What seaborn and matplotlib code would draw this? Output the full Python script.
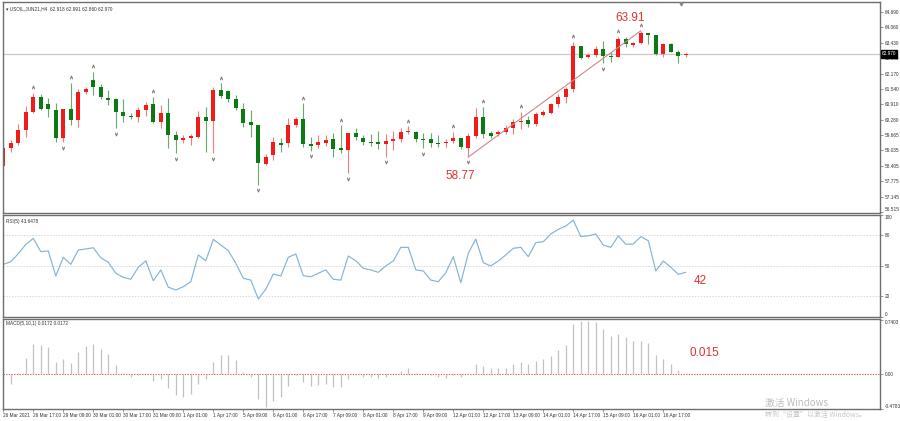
import numpy as np
import matplotlib
matplotlib.use("Agg")
import matplotlib.pyplot as plt
import seaborn as sns

# ---------------- data ----------------
header_main = "USOIL,JUN21,H4  62.918 62.991 62.860 62.970"
header_rsi = "RSI(5) 43.6478"
header_macd = "MACD(5,10,1) 0.0172 0.0172"

opens = [58.40, 59.15, 59.35, 59.87, 60.62, 61.23, 60.93, 60.69, 59.56, 60.73,
         60.28, 61.43, 61.91, 61.63, 61.19, 61.13, 60.62, 60.44, 60.39, 60.69,
         60.92, 60.18, 60.55, 59.67, 59.46, 59.53, 59.60, 60.41, 60.24, 61.50,
         61.47, 61.13, 60.71, 60.18, 60.07, 58.48, 58.85, 59.35, 59.33, 60.07,
         60.31, 59.29, 59.26, 59.33, 59.49, 59.12, 59.06, 59.74, 59.53, 59.39,
         59.37, 59.30, 59.42, 59.49, 59.78, 59.80, 59.50, 59.49, 59.35, 59.33,
         59.42, 59.53, 59.12, 59.62, 60.39, 59.74, 59.71, 59.80, 59.94, 60.21,
         60.28, 60.10, 60.48, 60.57, 60.92, 61.23, 61.53, 63.29, 62.86, 62.93,
         63.16, 62.89, 62.86, 63.57, 63.33, 63.40, 63.81, 63.74, 62.97, 63.36,
         63.06, 62.918]
highs = [59.39, 59.46, 60.11, 60.85, 61.39, 61.32, 61.16, 60.96, 60.74, 61.80,
         61.53, 61.63, 62.25, 61.73, 61.50, 61.16, 61.12, 60.57, 60.82, 61.02,
         61.23, 60.89, 61.16, 59.84, 59.67, 59.71, 60.66, 60.82, 61.63, 61.77,
         61.50, 61.30, 60.96, 60.69, 60.07, 58.88, 59.60, 59.53, 60.35, 60.41,
         60.96, 59.57, 59.67, 59.67, 59.74, 60.07, 59.76, 59.94, 59.67, 59.71,
         59.84, 59.71, 59.84, 59.94, 60.03, 59.83, 59.74, 59.74, 59.67, 59.49,
         59.80, 59.53, 59.76, 60.75, 60.82, 59.84, 59.87, 60.07, 60.31, 60.62,
         60.44, 60.62, 60.69, 60.98, 61.32, 61.63, 63.47, 63.30, 63.00, 63.29,
         63.51, 63.06, 63.67, 63.65, 63.47, 63.91, 63.84, 63.74, 63.43, 63.40,
         63.13, 62.991]
lows = [58.37, 58.99, 59.26, 59.57, 60.55, 60.69, 60.39, 59.39, 59.36, 60.07,
        60.00, 61.32, 61.30, 61.12, 60.89, 59.94, 60.21, 60.31, 60.21, 60.44,
        60.14, 59.94, 59.12, 58.92, 59.33, 59.26, 59.53, 58.99, 58.92, 61.16,
        61.02, 60.69, 60.00, 59.60, 57.63, 58.44, 58.65, 58.99, 59.16, 60.00,
        59.16, 59.03, 59.12, 59.22, 58.78, 58.92, 58.11, 59.46, 59.26, 59.22,
        59.08, 58.78, 59.06, 59.39, 59.71, 59.39, 59.12, 59.16, 59.19, 59.16,
        59.33, 59.08, 58.77, 59.53, 59.53, 59.56, 59.62, 59.71, 59.71, 59.90,
        59.98, 60.03, 60.44, 60.52, 60.82, 60.96, 61.43, 62.75, 62.79, 62.86,
        62.59, 62.65, 62.83, 63.26, 63.26, 63.36, 63.36, 62.93, 62.83, 63.04,
        62.61, 62.860]
closes = [59.15, 59.35, 59.87, 60.62, 61.23, 60.71, 60.73, 59.56, 60.71, 60.28,
          61.43, 61.54, 61.63, 61.23, 61.09, 60.62, 60.45, 60.39, 60.69, 60.89,
          60.18, 60.55, 59.67, 59.46, 59.53, 59.62, 60.41, 60.24, 61.50, 61.27,
          61.13, 60.75, 60.14, 60.07, 58.51, 58.78, 59.39, 59.25, 60.07, 60.31,
          59.29, 59.22, 59.37, 59.46, 59.08, 59.06, 59.76, 59.57, 59.39, 59.35,
          59.30, 59.42, 59.50, 59.80, 59.83, 59.49, 59.46, 59.33, 59.30, 59.39,
          59.53, 59.16, 59.62, 60.39, 59.71, 59.62, 59.80, 59.94, 60.21, 60.25,
          60.10, 60.52, 60.59, 60.92, 61.23, 61.54, 63.29, 62.79, 62.93, 63.16,
          62.89, 62.83, 63.57, 63.36, 63.40, 63.81, 63.73, 62.97, 63.36, 63.06,
          62.90, 62.970]

rsi = [51.5, 54, 62, 71, 77, 64, 64.6, 40, 58.4, 51.5,
       65.6, 66.6, 67.8, 58, 53.5, 42.7, 38.7, 36.8, 48.6, 55,
       35.4, 46, 29, 26.3, 29.5, 34.4, 60.7, 55, 76, 70.5,
       65, 52.5, 37.8, 36, 17.4, 27, 42, 40, 58.4, 61.7,
       40.3, 39.3, 42.7, 46, 36.8, 36, 59.7, 55, 47.6, 46,
       43.6, 49.9, 54.8, 68.2, 68.2, 46, 45, 36, 34.4, 43.3,
       59, 33.4, 62.3, 76.4, 53.1, 49.9, 54.8, 60.7, 67.3, 68.2,
       59, 72.8, 73.7, 81.3, 85.9, 89.2, 95, 78.7, 79.6, 81.3,
       70.5, 68.2, 79.4, 71.2, 71.5, 78.7, 74.7, 45, 54.8, 48.6,
       41.7, 43.6]

macd = [-0.02, -0.13, 0.01, 0.215, 0.41, 0.40, 0.37, 0.16, 0.205, 0.155,
        0.305, 0.38, 0.41, 0.34, 0.27, 0.12, 0.02, -0.045, -0.01, -0.005,
        -0.09, -0.07, -0.19, -0.29, -0.31, -0.28, -0.13, -0.07, 0.17, 0.26,
        0.26, 0.19, 0.03, -0.035, -0.34, -0.45, -0.37, -0.32, -0.165, -0.015,
        -0.115, -0.165, -0.15, -0.13, -0.175, -0.175, -0.07, -0.015, -0.035, -0.04,
        -0.06, -0.035, 0.005, 0.04, 0.077, 0.02, -0.005, -0.015, -0.035, -0.05,
        -0.01, -0.035, 0.01, 0.137, 0.114, 0.077, 0.077, 0.087, 0.137, 0.16,
        0.137, 0.183, 0.205, 0.25, 0.33, 0.40, 0.68, 0.72, 0.72, 0.71,
        0.61, 0.525, 0.55, 0.50, 0.45, 0.456, 0.43, 0.26, 0.205, 0.137,
        0.055, 0.017]

fractal_up = [4, 9, 12, 20, 29, 40, 45, 54, 60, 64, 69, 76, 82, 85]
fractal_dn = [8, 15, 23, 28, 34, 41, 46, 51, 56, 62, 80]

trend_start = 62   # bar of the 58.77 low
trend_end = 85     # bar of the 63.91 high

price_ticks = [64.690, 64.060, 63.430, 62.800, 62.170, 61.540, 60.910, 60.280,
               59.665, 59.035, 58.405, 57.775, 57.145, 56.515]
price_tick_labels = ["64.690", "64.060", "63.430", "62.800", "62.170", "61.540",
                     "60.910", "60.280", "59.665", "59.035", "58.405", "57.775",
                     "57.145", "56.515"]
rsi_ticks = [100, 80, 50, 20, 0]
rsi_levels = [80, 50, 20]
macd_ticks = [0.7403, 0.0, -0.4783]
macd_tick_labels = ["0.7403", "0.00", "-0.4783"]

time_labels = ["26 Mar 2021", "26 Mar 17:00", "29 Mar 09:00", "30 Mar 01:00",
               "30 Mar 17:00", "31 Mar 09:00", "1 Apr 01:00", "1 Apr 17:00",
               "5 Apr 09:00", "6 Apr 01:00", "6 Apr 17:00", "7 Apr 09:00",
               "8 Apr 01:00", "8 Apr 17:00", "9 Apr 09:00", "12 Apr 01:00",
               "12 Apr 17:00", "13 Apr 09:00", "14 Apr 01:00", "14 Apr 17:00",
               "15 Apr 09:00", "16 Apr 01:00", "16 Apr 17:00"]
time_label_step = 4

note_high = "63.91"
note_low = "58.77"
note_rsi = "42"
note_macd = "0.015"

# ---------------- style ----------------
sns.set_theme(style="white")
plt.rcParams['font.family'] = ['Liberation Sans', 'DejaVu Sans']

RED = "#f01c1c"
GREEN = "#0c7a14"
RED_WICK = "#f07c7c"
GREEN_WICK = "#6aa86e"
FRAME = "#6e6e6e"
TXT = "#333333"
NOTE = "#e2312c"
SMALL = 3.4

W, H = 900, 421
fig = plt.figure(figsize=(9, 4.21), dpi=100)
fig.patch.set_facecolor("white")


def ax_at(x0, y0, x1, y1):
    return fig.add_axes([x0 / W, 1 - y1 / H, (x1 - x0) / W, (y1 - y0) / H])


ax = ax_at(3, 2, 880, 213)
ax_r = ax_at(3, 215, 880, 317)
ax_m = ax_at(3, 319, 880, 409)

o = np.array(opens)
h = np.array(highs)
l = np.array(lows)
c = np.array(closes)
idx = np.arange(len(o))
xl = (-0.04, -0.04 + 877 / 7.5)

for a in (ax, ax_r, ax_m):
    a.set_facecolor("white")
    a.set_xlim(*xl)
    for s in a.spines.values():
        s.set_color(FRAME)
        s.set_linewidth(1.0)
    a.yaxis.tick_right()
    a.tick_params(axis="y", which="both", right=True, left=False, length=2,
                  width=0.5, color=FRAME, labelsize=SMALL, pad=1.5,
                  labelcolor=TXT)
    a.grid(False)


def edge_labels(a):
    labs = a.get_yticklabels()
    labs[0].set_va("top")
    labs[-1].set_va("bottom")


# ---------------- main candle chart ----------------
up = c >= o
ax.axhline(c[-1], color="#c9c9c9", lw=0.9, zorder=0)
ax.vlines(idx, l, h, colors=np.where(up, RED_WICK, GREEN_WICK), lw=0.8, zorder=1)
body = np.maximum(np.abs(c - o), 0.03)
ax.bar(idx, body, bottom=np.minimum(o, c), width=0.58,
       color=np.where(up, RED, GREEN), linewidth=0, zorder=2)

fu = np.array(fractal_up)
fd = np.array(fractal_dn)
ax.scatter(fu, h[fu] + 0.22, marker=r"$\wedge$", s=5, color="#777777", lw=0.3, zorder=3)
ax.scatter(fd, l[fd] - 0.22, marker=r"$\vee$", s=5, color="#777777", lw=0.3, zorder=3)

ax.plot([trend_start, trend_end], [l[trend_start], h[trend_end]],
        color="#c98a8a", lw=0.8, zorder=3)

ax.set_ylim(56.487, 65.085)
ax.set_yticks(price_ticks)
ax.set_yticklabels(price_tick_labels)
ax.get_yticklabels()[-1].set_va("bottom")
ax.set_xticks([])

ax.text(trend_end - 1.4, h[trend_end] + 0.52, note_high, color=NOTE,
        fontsize=8.5, ha="center", va="center")
ax.text(trend_start - 1.1, l[trend_start] - 0.78, note_low, color=NOTE,
        fontsize=8.5, ha="center", va="center")

ax.text(0.003, 0.982, "\u25BE " + header_main, transform=ax.transAxes,
        fontsize=SMALL, color=TXT, va="top", ha="left",
        family=["Liberation Sans", "DejaVu Sans"])

# current price box on the price scale
ax.text(1.002, (c[-1] - 56.487) / (65.085 - 56.487), "%.3f" % c[-1],
        transform=ax.transAxes, fontsize=SMALL, color="white", va="center",
        ha="left", bbox=dict(boxstyle="square,pad=0.25", fc="black", ec="black"),
        zorder=5, clip_on=False)

# shift marker at the top
ax.scatter([90.3], [65.0], marker="v", s=4, color="#888888", clip_on=False, zorder=4)

# ---------------- RSI ----------------
for lv in rsi_levels:
    ax_r.axhline(lv, color="#d6d6d6", lw=0.7, ls=(0, (1.5, 1.5)), zorder=0)
sns.lineplot(x=idx, y=rsi, ax=ax_r, color="#82b4d6", lw=0.85, zorder=2)
ax_r.set_ylim(-0.3, 100)
ax_r.set_yticks(rsi_ticks)
ax_r.set_yticklabels([str(t) for t in rsi_ticks])
edge_labels(ax_r)
ax_r.set_xticks([])
ax_r.set_xlabel("")
ax_r.set_ylabel("")
ax_r.text(0.003, 0.965, header_rsi, transform=ax_r.transAxes, fontsize=SMALL,
          color=TXT, va="top", ha="left")
ax_r.text(len(rsi) + 0.9, rsi[-1] - 8.5, note_rsi, color=NOTE, fontsize=8.5,
          ha="center", va="center")

# ---------------- MACD ----------------
ax_m.axhline(0, color="#e05a5a", lw=0.8, ls=(0, (1.2, 1.2)), zorder=0)
ax_m.vlines(idx, 0, macd, colors="#c2c2c2", lw=0.9, zorder=2)
ax_m.set_ylim(-0.479, 0.753)
ax_m.set_yticks(macd_ticks)
ax_m.set_yticklabels(macd_tick_labels)
edge_labels(ax_m)
ax_m.text(0.003, 0.975, header_macd, transform=ax_m.transAxes, fontsize=SMALL,
          color=TXT, va="top", ha="left")
ax_m.text(len(macd) + 1.5, 0.29, note_macd, color=NOTE, fontsize=8.5,
          ha="center", va="center")

tick_pos = np.arange(len(time_labels)) * time_label_step
ax_m.set_xticks(tick_pos)
ax_m.set_xticklabels(time_labels, ha="left")
ax_m.tick_params(axis="x", bottom=True, length=2, width=0.5, color=FRAME,
                 labelsize=SMALL, pad=1.2, labelcolor=TXT)

# ---------------- OS watermark ----------------
cjk = ["Noto Sans CJK SC", "DejaVu Sans"]
fig.text(765 / W, 1 - 403 / H, "激活 Windows", fontsize=7, color="#bdbdbd",
         family=cjk, va="center", ha="left")
fig.text(765 / W, 1 - 415 / H, "转到“设置”以激活 Windows。", fontsize=5,
         color="#c6c6c6", family=cjk, va="center", ha="left")

fig.savefig("out.png", dpi=100, facecolor="white")
